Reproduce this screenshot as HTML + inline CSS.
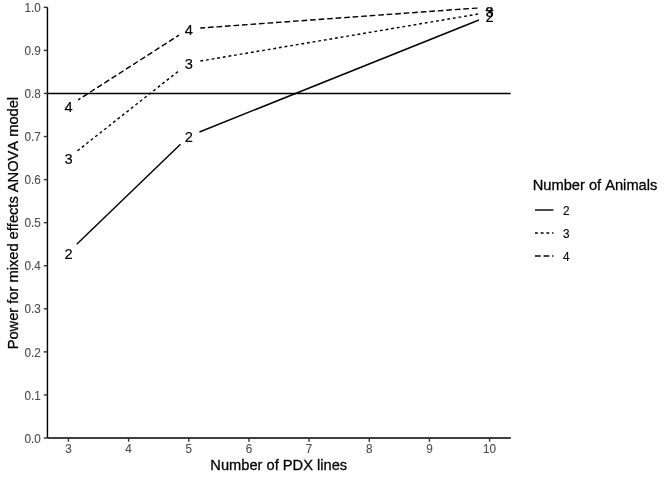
<!DOCTYPE html>
<html><head><meta charset="utf-8"><title>plot</title>
<style>
html,body{margin:0;padding:0;background:#fff;}
body{width:672px;height:480px;overflow:hidden;}
svg{display:block;will-change:transform;font-family:"Liberation Sans",sans-serif;font-kerning:none;}
</style></head><body>
<svg width="672" height="480" viewBox="0 0 672 480">
<rect x="0" y="0" width="672" height="480" fill="#ffffff"/>
<defs><clipPath id="pc"><rect x="47.45" y="7.33" width="463.35" height="430.67"/></clipPath></defs>
<g clip-path="url(#pc)">
<line x1="76.73" y1="244.22" x2="180.50" y2="144.23" stroke="#000" stroke-width="1.42"/>
<line x1="199.45" y1="131.97" x2="478.92" y2="20.03" stroke="#000" stroke-width="1.42"/>
<line x1="77.48" y1="150.78" x2="179.75" y2="70.12" stroke="#000" stroke-width="1.42" stroke-dasharray="2.845 2.845" stroke-dashoffset="11.500"/>
<line x1="200.12" y1="61.08" x2="478.26" y2="14.02" stroke="#000" stroke-width="1.42" stroke-dasharray="2.845 2.845" stroke-dashoffset="164.748"/>
<line x1="78.13" y1="99.89" x2="179.10" y2="35.06" stroke="#000" stroke-width="1.42" stroke-dasharray="5.69 2.845" stroke-dashoffset="11.500"/>
<line x1="200.25" y1="28.02" x2="478.13" y2="7.93" stroke="#000" stroke-width="1.42" stroke-dasharray="5.69 2.845" stroke-dashoffset="154.491"/>
<line x1="47.45" y1="93.46" x2="510.8" y2="93.46" stroke="#000" stroke-width="1.42"/>
<text transform="translate(68.45,112.10) scale(1.0,1.04)" font-size="14.67" text-anchor="middle" fill="#000" stroke="#000" stroke-width="0.14">4</text>
<text transform="translate(188.78,34.85) scale(1.0,1.04)" font-size="14.67" text-anchor="middle" fill="#000" stroke="#000" stroke-width="0.14">4</text>
<text transform="translate(489.60,13.10) scale(1.0,1.04)" font-size="14.67" text-anchor="middle" fill="#000" stroke="#000" stroke-width="0.14">4</text>
<text transform="translate(68.45,163.90) scale(1.0,1.04)" font-size="14.67" text-anchor="middle" fill="#000" stroke="#000" stroke-width="0.14">3</text>
<text transform="translate(188.78,69.00) scale(1.0,1.04)" font-size="14.67" text-anchor="middle" fill="#000" stroke="#000" stroke-width="0.14">3</text>
<text transform="translate(489.60,17.30) scale(1.0,1.04)" font-size="14.67" text-anchor="middle" fill="#000" stroke="#000" stroke-width="0.14">3</text>
<text transform="translate(68.45,258.60) scale(1.0,1.04)" font-size="14.67" text-anchor="middle" fill="#000" stroke="#000" stroke-width="0.14">2</text>
<text transform="translate(188.78,141.80) scale(1.0,1.04)" font-size="14.67" text-anchor="middle" fill="#000" stroke="#000" stroke-width="0.14">2</text>
<text transform="translate(489.60,21.85) scale(1.0,1.04)" font-size="14.67" text-anchor="middle" fill="#000" stroke="#000" stroke-width="0.14">2</text>
</g>
<line x1="47.45" y1="7.33" x2="47.45" y2="438.0" stroke="#000" stroke-width="1.42"/>
<line x1="47.45" y1="438.0" x2="510.8" y2="438.0" stroke="#000" stroke-width="1.42"/>
<line x1="43.78" y1="438.00" x2="47.45" y2="438.00" stroke="#333" stroke-width="1.42"/>
<text transform="translate(40.85,443.00) scale(1.0,1.02)" font-size="11.73" text-anchor="end" fill="#4d4d4d" stroke="#4d4d4d" stroke-width="0.1">0.0</text>
<line x1="43.78" y1="394.93" x2="47.45" y2="394.93" stroke="#333" stroke-width="1.42"/>
<text transform="translate(40.85,400.00) scale(1.0,1.02)" font-size="11.73" text-anchor="end" fill="#4d4d4d" stroke="#4d4d4d" stroke-width="0.1">0.1</text>
<line x1="43.78" y1="351.87" x2="47.45" y2="351.87" stroke="#333" stroke-width="1.42"/>
<text transform="translate(40.85,357.00) scale(1.0,1.02)" font-size="11.73" text-anchor="end" fill="#4d4d4d" stroke="#4d4d4d" stroke-width="0.1">0.2</text>
<line x1="43.78" y1="308.80" x2="47.45" y2="308.80" stroke="#333" stroke-width="1.42"/>
<text transform="translate(40.85,313.00) scale(1.0,1.02)" font-size="11.73" text-anchor="end" fill="#4d4d4d" stroke="#4d4d4d" stroke-width="0.1">0.3</text>
<line x1="43.78" y1="265.73" x2="47.45" y2="265.73" stroke="#333" stroke-width="1.42"/>
<text transform="translate(40.85,270.00) scale(1.0,1.02)" font-size="11.73" text-anchor="end" fill="#4d4d4d" stroke="#4d4d4d" stroke-width="0.1">0.4</text>
<line x1="43.78" y1="222.66" x2="47.45" y2="222.66" stroke="#333" stroke-width="1.42"/>
<text transform="translate(40.85,227.00) scale(1.0,1.02)" font-size="11.73" text-anchor="end" fill="#4d4d4d" stroke="#4d4d4d" stroke-width="0.1">0.5</text>
<line x1="43.78" y1="179.60" x2="47.45" y2="179.60" stroke="#333" stroke-width="1.42"/>
<text transform="translate(40.85,184.00) scale(1.0,1.02)" font-size="11.73" text-anchor="end" fill="#4d4d4d" stroke="#4d4d4d" stroke-width="0.1">0.6</text>
<line x1="43.78" y1="136.53" x2="47.45" y2="136.53" stroke="#333" stroke-width="1.42"/>
<text transform="translate(40.85,141.00) scale(1.0,1.02)" font-size="11.73" text-anchor="end" fill="#4d4d4d" stroke="#4d4d4d" stroke-width="0.1">0.7</text>
<line x1="43.78" y1="93.46" x2="47.45" y2="93.46" stroke="#333" stroke-width="1.42"/>
<text transform="translate(40.85,98.00) scale(1.0,1.02)" font-size="11.73" text-anchor="end" fill="#4d4d4d" stroke="#4d4d4d" stroke-width="0.1">0.8</text>
<line x1="43.78" y1="50.40" x2="47.45" y2="50.40" stroke="#333" stroke-width="1.42"/>
<text transform="translate(40.85,55.00) scale(1.0,1.02)" font-size="11.73" text-anchor="end" fill="#4d4d4d" stroke="#4d4d4d" stroke-width="0.1">0.9</text>
<line x1="43.78" y1="7.33" x2="47.45" y2="7.33" stroke="#333" stroke-width="1.42"/>
<text transform="translate(40.85,12.00) scale(1.0,1.02)" font-size="11.73" text-anchor="end" fill="#4d4d4d" stroke="#4d4d4d" stroke-width="0.1">1.0</text>
<line x1="68.45" y1="438.0" x2="68.45" y2="441.67" stroke="#333" stroke-width="1.42"/>
<text transform="translate(68.45,453.00) scale(1.0,1.02)" font-size="11.73" text-anchor="middle" fill="#4d4d4d" stroke="#4d4d4d" stroke-width="0.1">3</text>
<line x1="128.61" y1="438.0" x2="128.61" y2="441.67" stroke="#333" stroke-width="1.42"/>
<text transform="translate(128.61,453.00) scale(1.0,1.02)" font-size="11.73" text-anchor="middle" fill="#4d4d4d" stroke="#4d4d4d" stroke-width="0.1">4</text>
<line x1="188.78" y1="438.0" x2="188.78" y2="441.67" stroke="#333" stroke-width="1.42"/>
<text transform="translate(188.78,453.00) scale(1.0,1.02)" font-size="11.73" text-anchor="middle" fill="#4d4d4d" stroke="#4d4d4d" stroke-width="0.1">5</text>
<line x1="248.94" y1="438.0" x2="248.94" y2="441.67" stroke="#333" stroke-width="1.42"/>
<text transform="translate(248.94,453.00) scale(1.0,1.02)" font-size="11.73" text-anchor="middle" fill="#4d4d4d" stroke="#4d4d4d" stroke-width="0.1">6</text>
<line x1="309.11" y1="438.0" x2="309.11" y2="441.67" stroke="#333" stroke-width="1.42"/>
<text transform="translate(309.11,453.00) scale(1.0,1.02)" font-size="11.73" text-anchor="middle" fill="#4d4d4d" stroke="#4d4d4d" stroke-width="0.1">7</text>
<line x1="369.27" y1="438.0" x2="369.27" y2="441.67" stroke="#333" stroke-width="1.42"/>
<text transform="translate(369.27,453.00) scale(1.0,1.02)" font-size="11.73" text-anchor="middle" fill="#4d4d4d" stroke="#4d4d4d" stroke-width="0.1">8</text>
<line x1="429.44" y1="438.0" x2="429.44" y2="441.67" stroke="#333" stroke-width="1.42"/>
<text transform="translate(429.44,453.00) scale(1.0,1.02)" font-size="11.73" text-anchor="middle" fill="#4d4d4d" stroke="#4d4d4d" stroke-width="0.1">9</text>
<line x1="489.60" y1="438.0" x2="489.60" y2="441.67" stroke="#333" stroke-width="1.42"/>
<text transform="translate(489.60,453.00) scale(1.0,1.02)" font-size="11.73" text-anchor="middle" fill="#4d4d4d" stroke="#4d4d4d" stroke-width="0.1">10</text>
<text transform="translate(278.73,470.30)" font-size="14.67" text-anchor="middle" fill="#000" stroke="#000" stroke-width="0.28">Number of PDX lines</text>
<text transform="translate(18.30,223.10) rotate(-90) scale(1.0,1.02)" font-size="14.67" text-anchor="middle" fill="#000" stroke="#000" stroke-width="0.28">Power for mixed effects ANOVA model</text>
<text transform="translate(532.70,190.00)" font-size="14.67" text-anchor="start" fill="#000" stroke="#000" stroke-width="0.28">Number of Animals</text>
<line x1="535.0" y1="210.0" x2="553.43" y2="210.0" stroke="#000" stroke-width="1.42"/>
<text transform="translate(563.07,215.00) scale(1.0,1.02)" font-size="11.73" text-anchor="start" fill="#000" stroke="#000" stroke-width="0.12">2</text>
<line x1="535.0" y1="233.04" x2="553.43" y2="233.04" stroke="#000" stroke-width="1.42" stroke-dasharray="2.845 2.845"/>
<text transform="translate(563.07,238.04) scale(1.0,1.02)" font-size="11.73" text-anchor="start" fill="#000" stroke="#000" stroke-width="0.12">3</text>
<line x1="535.0" y1="256.08" x2="553.43" y2="256.08" stroke="#000" stroke-width="1.42" stroke-dasharray="5.69 2.845"/>
<text transform="translate(563.07,261.08) scale(1.0,1.02)" font-size="11.73" text-anchor="start" fill="#000" stroke="#000" stroke-width="0.12">4</text>
</svg></body></html>
